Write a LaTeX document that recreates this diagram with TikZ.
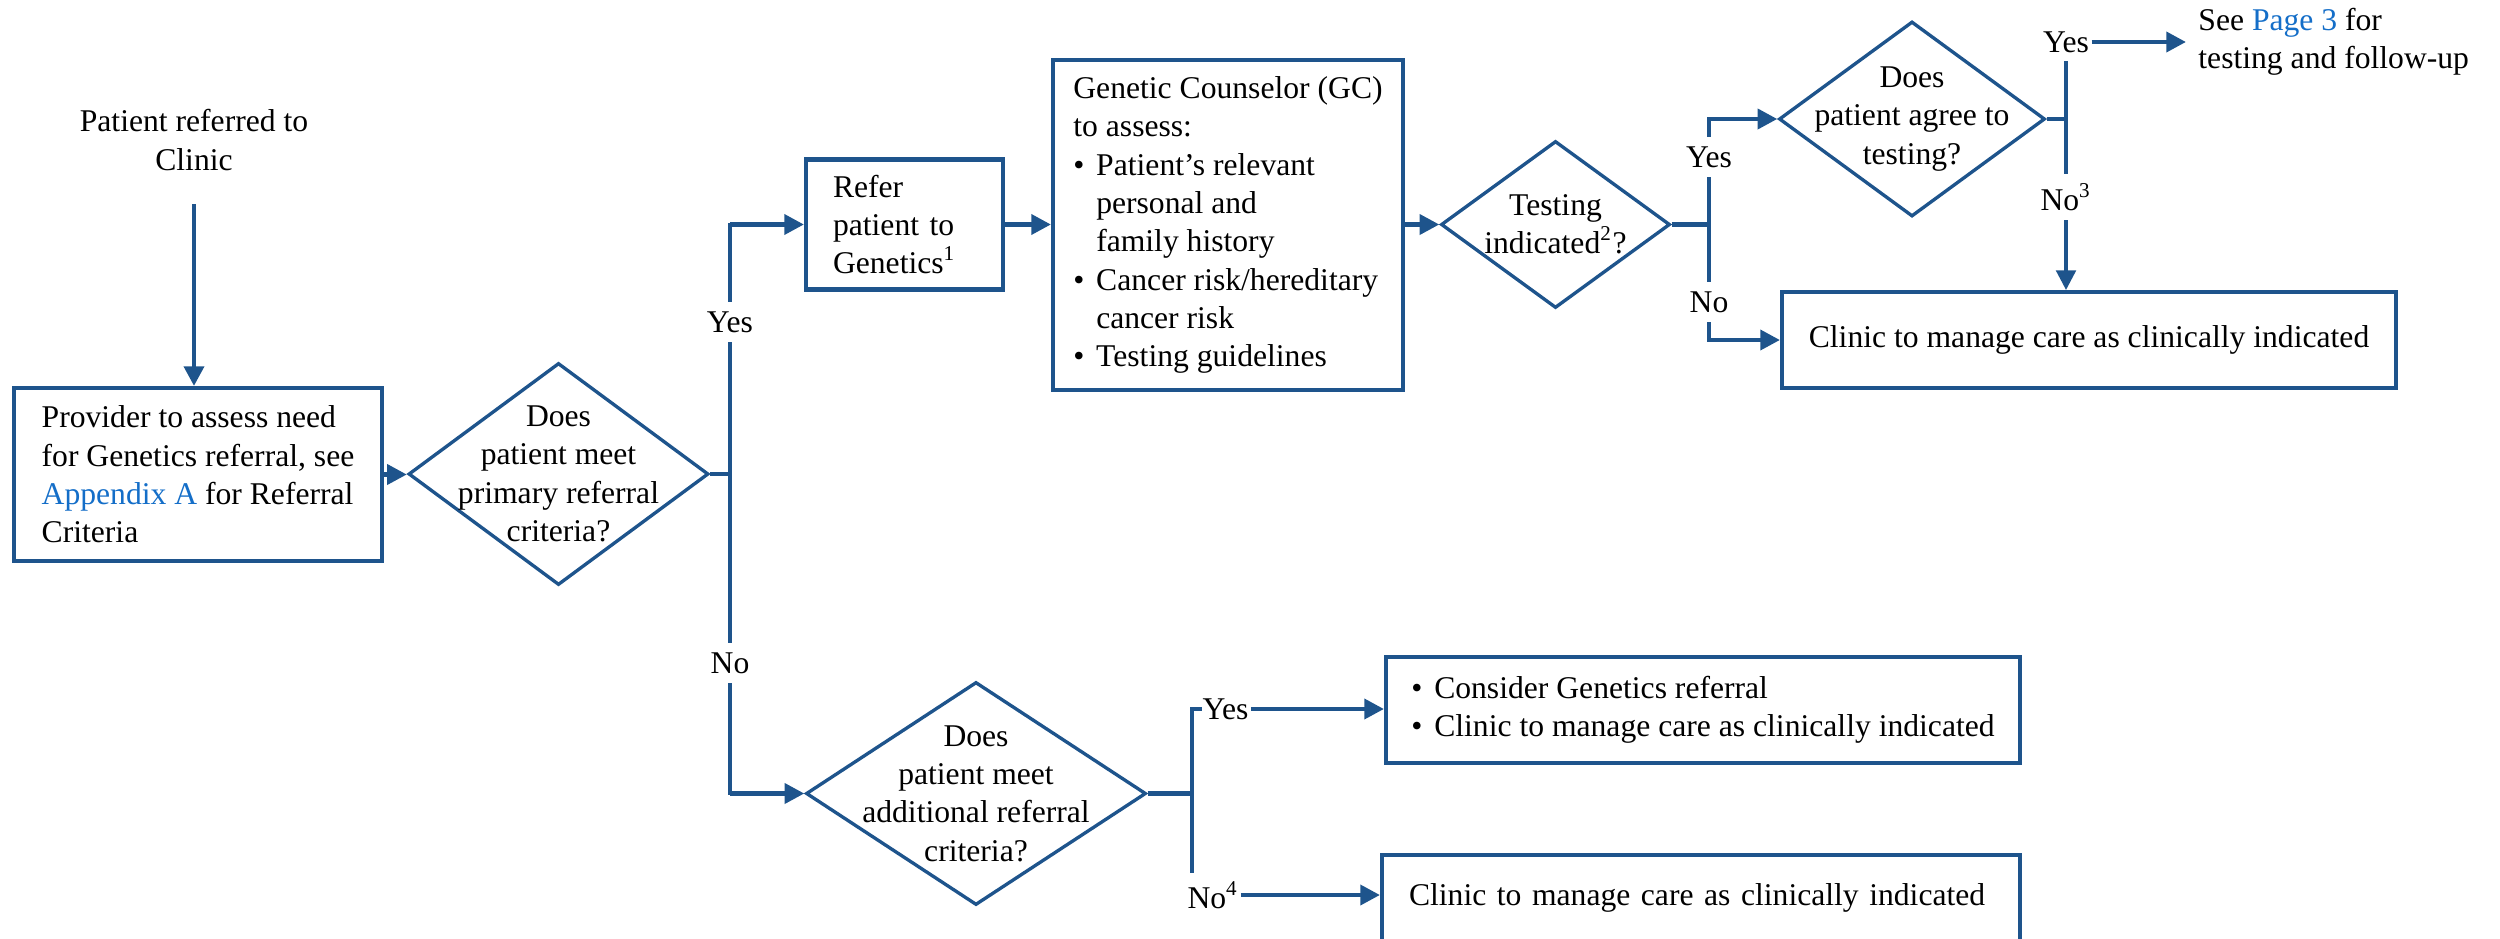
\documentclass[tikz,border=0pt]{standalone}
\usepackage{fontspec}
\setmainfont{Liberation Serif}
\usepackage{xcolor}
\usepackage{tikz}
\usetikzlibrary{arrows.meta,shapes.geometric,positioning,calc}

\definecolor{flowblue}{RGB}{30,84,140}
\definecolor{linkblue}{RGB}{20,110,200}
\newcommand{\bul}{\makebox[6.5pt][l]{\textbullet}}
\newcommand{\bulgap}{\hspace*{6.5pt}}

\tikzset{
  box/.style={draw=flowblue, line width=1.15pt, align=left},
  decision/.style 2 args={diamond, draw=flowblue, line width=0.95pt,
     minimum width=#1, minimum height=#2, inner sep=0pt},
  flowline/.style={draw=flowblue, line width=1.3pt},
  flow/.style={flowline, -{Triangle[length=5.6pt,width=5.6pt]}},
  branch/.style={draw=flowblue, line width=0.95pt, line cap=rect},
  answer/.style={fill=white, inner xsep=0.5pt, inner ysep=2.7pt},
}

\begin{document}
\begin{tikzpicture}[font=\fontsize{9pt}{10.9pt}\selectfont]
    \useasboundingbox (0,0) rectangle (25,-9.38);

    % Entry and first decision
    \node[align=center] (start) at (1.94,-1.40) {Patient referred to\\Clinic};
    \node[box, minimum width=3.68cm, minimum height=1.73cm] (provider) at (1.98,-4.745)
      {Provider to assess need\\for Genetics referral, see\\\textcolor{linkblue}{Appendix A} for Referral\\Criteria};
    \node[decision={3.00cm}{2.22cm}, label={[align=center]center:Does\\patient meet\\primary referral\\criteria?}] (prim) at (5.585,-4.74) {};

    % Upper row: genetics referral and testing
    \node[box, minimum width=1.97cm, minimum height=1.30cm, text width=1.43cm, inner xsep=0.27cm] (refer) at (9.045,-2.245)
      {Refer\\patient to\\Genetics\textsuperscript{1}};
    \node[box, minimum width=3.50cm, minimum height=3.30cm] (gc) at (12.28,-2.25)
      {Genetic Counselor (GC)\\to assess:\\\bul Patient’s relevant\\\bulgap personal and\\\bulgap family history\\\bul Cancer risk/hereditary\\\bulgap cancer risk\\\bul Testing guidelines};
    \node[decision={2.29cm}{1.67cm}, label={[align=center]center:Testing\\indicated\textsuperscript{2}?}] (testing) at (15.555,-2.245) {};
    \node[decision={2.66cm}{1.95cm}, label={[align=center]center:Does\\patient agree to\\testing?}] (agree) at (19.12,-1.19) {};
    \node[box, minimum width=6.14cm, minimum height=0.96cm, align=center] (manage1) at (20.89,-3.40)
      {Clinic to manage care as clinically indicated};

    % Lower row: additional criteria
    \node[decision={3.40cm}{2.23cm}, label={[align=center]center:Does\\patient meet\\additional referral\\criteria?}] (addl) at (9.76,-7.935) {};
    \node[box, minimum width=6.34cm, minimum height=1.06cm] (consider) at (17.03,-7.10)
      {\bul Consider Genetics referral\\\bul Clinic to manage care as clinically indicated};
    \node[box, minimum width=6.38cm, minimum height=0.86cm, text width=5.84cm, inner xsep=0.27cm] (manage2) at (17.01,-8.98)
      {Clinic to manage care as clinically indicated};

    \coordinate (fork1) at (7.30,-4.74);
    \coordinate (fork2) at (17.09,-2.245);
    \coordinate (fork3) at (20.66,-1.19);
    \coordinate (fork4) at (11.92,-7.935);

    % Primary referral criteria
    \draw[flow, shorten <=0.215cm] (start.south) -- (start.south |- provider.north);
    \draw[flow] (provider.east) -- (provider.east -| prim.west);
    \draw[flowline] (prim.east) -- (fork1);
    \draw[branch] (fork1 |- refer.west) -- (fork1 |- addl.west);
    \draw[flow] (fork1 |- refer.west) -- (refer.west);
    \draw[flow] (fork1 |- addl.west) -- (addl.west);
    \node[answer] (yes1) at (7.30,-3.22) {Yes};
    \node[answer] (no1) at (7.30,-6.63) {No};

    % Counseling and testing
    \draw[flow] (refer.east) -- (gc.west |- refer.east);
    \draw[flow] (gc.east |- testing.west) -- (testing.west);
    \draw[flowline] (testing.east) -- (fork2);
    \draw[branch] (fork2 |- agree.west) -- (fork2 |- manage1.west);
    \draw[flow] (fork2 |- agree.west) -- (agree.west);
    \draw[flow] (fork2 |- manage1.west) -- (manage1.west);
    \node[answer] (yes2) at (17.09,-1.57) {Yes};
    \node[answer] (no2) at (17.09,-3.02) {No};

    % Agreement to testing
    \node[answer] (yes3) at (20.66,-0.42) {Yes};
    \node[anchor=west, align=left] (seepage) at (21.86,-0.42)
      {See \textcolor{linkblue}{Page 3} for\\testing and follow-up};
    \draw[flowline] (agree.east) -- (fork3);
    \draw[branch] (yes3.south) -- (fork3);
    \draw[branch, -{Triangle[length=5.6pt,width=5.6pt]}] (fork3) -- (fork3 |- manage1.north);
    \draw[flow] (yes3.east) -- (seepage.west);
    \node[answer] (no3) at (20.66,-1.97) {No\textsuperscript{3}};

    % Additional referral criteria
    \node[answer] (yes4) at (12.255,-7.09) {Yes};
    \node[answer] (no4) at (12.13,-8.95) {No\textsuperscript{4}};
    \draw[flowline] (addl.east) -- (fork4);
    \draw[branch] (no4.north -| fork4) -- (fork4) |- (yes4.west);
    \draw[flow] (yes4.east) -- (yes4.east -| consider.west);
    \draw[flow] (no4.east) -- (no4.east -| manage2.west);
\end{tikzpicture}
\end{document}
